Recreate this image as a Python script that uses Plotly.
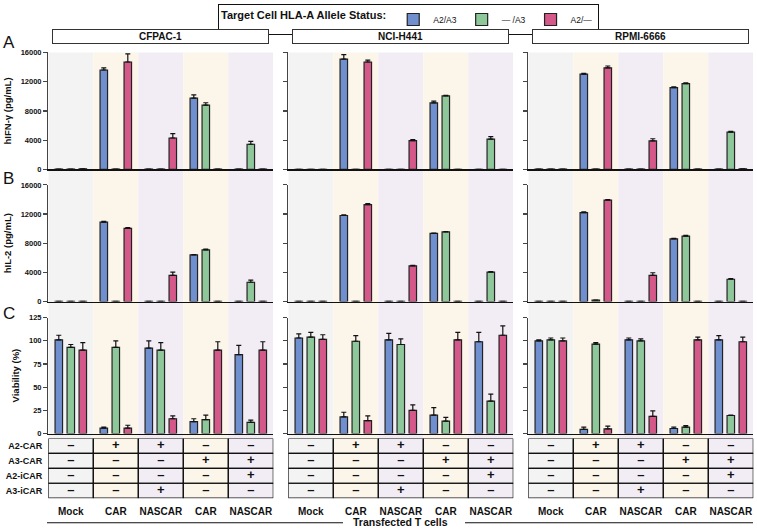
import plotly.graph_objects as go

W, H = 757, 532
FONT = "Liberation Sans"

# ---------------- data ----------------
groups = ["Mock", "CAR", "NASCAR", "CAR", "NASCAR"]
group_kind = ["mock", "car", "nascar", "car", "nascar"]
cell_lines = ["CFPAC-1", "NCI-H441", "RPMI-6666"]
series_names = ["A2/A3", "— /A3", "A2/—"]
series_colors = ["#6f8fcf", "#8ec79a", "#d4588a"]
band_colors = {"mock": "#f3f3f4", "car": "#fcf5ea", "nascar": "#f2edf5"}

# hIFN-gamma (pg/mL): [A2/A3, -/A3, A2/-] per group
ifng_cfpac1 = [[40, 13600, 40, 9750, 60], [40, 40, 40, 8800, 3450], [80, 14700, 4300, 40, 40]]
ifng_cfpac1_err = [[0, 300, 0, 450, 0], [0, 0, 0, 320, 380], [0, 1100, 600, 0, 0]]
ifng_h441 = [[30, 15100, 30, 9100, 30], [30, 30, 30, 10050, 4150], [30, 14700, 3950, 30, 30]]
ifng_h441_err = [[0, 600, 0, 250, 0], [0, 0, 0, 100, 350], [0, 250, 150, 0, 0]]
ifng_rpmi = [[40, 13050, 40, 11200, 40], [40, 60, 40, 11750, 5100], [40, 13900, 3900, 40, 80]]
ifng_rpmi_err = [[0, 100, 0, 100, 0], [0, 0, 0, 80, 100], [0, 250, 300, 0, 0]]

# hIL-2 (pg/mL)
il2_cfpac1 = [[40, 10900, 40, 6400, 40], [40, 40, 40, 7100, 2650], [40, 10050, 3600, 40, 40]]
il2_cfpac1_err = [[0, 100, 0, 50, 0], [0, 0, 0, 80, 280], [0, 80, 450, 0, 0]]
il2_h441 = [[40, 11800, 40, 9350, 40], [40, 40, 40, 9550, 4050], [40, 13300, 4900, 40, 40]]
il2_h441_err = [[0, 100, 0, 50, 0], [0, 0, 0, 60, 50], [0, 120, 60, 0, 0]]
il2_rpmi = [[40, 12200, 40, 8600, 40], [40, 200, 40, 8980, 3060], [40, 13900, 3600, 40, 40]]
il2_rpmi_err = [[0, 100, 0, 60, 0], [0, 0, 0, 100, 100], [0, 100, 350, 0, 0]]

# Viability (%)
via_cfpac1 = [[101, 6, 92, 13, 85], [93, 93, 90, 15, 12], [90, 6, 16, 90, 90]]
via_cfpac1_err = [[5, 1, 8, 3, 10], [3, 7, 8, 5, 2.5], [8, 3, 3, 9, 9]]
via_h441 = [[103, 18, 101, 20, 99], [104, 99.5, 96, 13.5, 35], [101.5, 14, 25, 101, 106]]
via_h441_err = [[4.5, 5, 7, 8, 10], [5, 6, 6, 4, 7.5], [5, 5, 6, 8, 10]]
via_rpmi = [[100, 4.5, 101, 5.5, 101], [101, 96.5, 100, 7, 19.5], [100, 5, 18.5, 101, 99]]
via_rpmi_err = [[1, 2.5, 2, 1.5, 4.5], [2, 1.5, 2, 1.5, 0.5], [3, 3, 6, 3, 5]]

assay_titles = ["hIFN-γ (pg/mL)", "hIL-2 (pg/mL)", "Viability (%)"]
assay_ticks = [[0, 4000, 8000, 12000, 16000], [0, 4000, 8000, 12000, 16000], [0, 25, 50, 75, 100, 125]]
assay_ranges = [[0, 16000], [0, 16000], [0, 125]]
panel_letters = ["A", "B", "C"]

values = [[ifng_cfpac1, ifng_h441, ifng_rpmi], [il2_cfpac1, il2_h441, il2_rpmi], [via_cfpac1, via_h441, via_rpmi]]
errors = [[ifng_cfpac1_err, ifng_h441_err, ifng_rpmi_err], [il2_cfpac1_err, il2_h441_err, il2_rpmi_err],
          [via_cfpac1_err, via_h441_err, via_rpmi_err]]

# construct table
row_labels = ["A2-CAR", "A3-CAR", "A2-iCAR", "A3-iCAR"]
a2_car = ["–", "+", "+", "–", "–"]
a3_car = ["–", "–", "–", "+", "+"]
a2_icar = ["–", "–", "–", "–", "+"]
a3_icar = ["–", "–", "+", "–", "–"]
table_rows = [a2_car, a3_car, a2_icar, a3_icar]

# ---------------- layout geometry (px) ----------------
col_x = [(48.3, 273.3), (288.3, 513.3), (528.3, 753.3)]
row_y = [(49.3, 168.3), (184.0, 302.7), (319.0, 437.0), (442.0, 502.7)]


def xd(a, b):
    return [a / W, b / W]


def yd(a, b):
    return [1 - b / H, 1 - a / H]


def ax_id(r, c):
    return r * 3 + c + 1


def xname(k):
    return "x" if k == 1 else f"x{k}"


def yname(k):
    return "y" if k == 1 else f"y{k}"


fig = go.Figure()
layout = {}
xpos = list(range(len(groups)))

for r in range(4):
    for c in range(3):
        k = ax_id(r, c)
        xa = "xaxis" if k == 1 else f"xaxis{k}"
        ya = "yaxis" if k == 1 else f"yaxis{k}"
        if r < 3:
            layout[xa] = dict(domain=xd(*col_x[c]), anchor=yname(k), range=[-0.5, 4.5],
                              showline=True, linecolor="#111", linewidth=1.3, ticks="",
                              showticklabels=False, showgrid=False, zeroline=False, fixedrange=True)
            layout[ya] = dict(domain=yd(*row_y[r]), anchor=xname(k), range=assay_ranges[r],
                              tickvals=assay_ticks[r], ticktext=[str(t) for t in assay_ticks[r]],
                              showline=True, linecolor="#444", linewidth=1.3,
                              ticks="outside", ticklen=4, tickwidth=1.2, tickcolor="#444",
                              showticklabels=(c == 0), showgrid=False, zeroline=False,
                              tickfont=dict(family=FONT, size=7.5, color="#111", weight="bold"))
            if c == 0:
                layout[ya]["title"] = dict(text=assay_titles[r], standoff=7,
                                           font=dict(family=FONT, size=9.5, color="#111", weight="bold"))
        else:
            layout[xa] = dict(domain=xd(*col_x[c]), anchor=yname(k), range=[-0.5, 4.5],
                              tickvals=xpos, ticktext=groups, showline=False, ticks="outside",
                              ticklen=4, tickcolor="rgba(0,0,0,0)", showgrid=False, zeroline=False,
                              tickfont=dict(family=FONT, size=10, color="#111", weight="bold"))
            layout[ya] = dict(domain=yd(*row_y[r]), anchor=xname(k), range=[3.5, -0.5],
                              tickvals=[0, 1, 2, 3], ticktext=row_labels, showline=False, ticks="",
                              showticklabels=(c == 0), showgrid=False, zeroline=False,
                              ticklabelstandoff=5,
                              tickfont=dict(family=FONT, size=9, color="#111", weight="bold"))

# bars
for r in range(3):
    for c in range(3):
        k = ax_id(r, c)
        for s in range(3):
            fig.add_trace(go.Bar(
                x=xpos, y=values[r][c][s], name=series_names[s],
                marker=dict(color=series_colors[s], line=dict(color="#222", width=1.2)),
                error_y=dict(type="data", symmetric=False, array=errors[r][c][s],
                             arrayminus=[0] * len(groups), color="#111", thickness=1.2, width=2.5),
                xaxis=xname(k), yaxis=yname(k), legendgroup=series_names[s],
                showlegend=(r == 0 and c == 0), hoverinfo="skip"))

# table text
for c in range(3):
    k = ax_id(3, c)
    tx, ty, tt = [], [], []
    for ri, row in enumerate(table_rows):
        for g, v in enumerate(row):
            tx.append(g)
            ty.append(ri)
            tt.append(v)
    fig.add_trace(go.Scatter(x=tx, y=ty, text=tt, mode="text", showlegend=False, hoverinfo="skip",
                             textfont=dict(family=FONT, size=13, color="#111", weight="bold"),
                             xaxis=xname(k), yaxis=yname(k)))

shapes = []
# background bands through all rows
for c in range(3):
    k = ax_id(0, c)
    for g, kind in enumerate(group_kind):
        shapes.append(dict(type="rect", xref=xname(k), yref="paper", x0=g - 0.5, x1=g + 0.5,
                           y0=1 - 502.7 / H, y1=1 - 49.3 / H, fillcolor=band_colors[kind],
                           line=dict(width=0), layer="below"))
# table cells
for c in range(3):
    k = ax_id(3, c)
    for ri in range(len(table_rows)):
        for g in range(len(groups)):
            shapes.append(dict(type="rect", xref=xname(k), yref=yname(k), x0=g - 0.5, x1=g + 0.5,
                               y0=ri - 0.5, y1=ri + 0.5, line=dict(color="#111", width=1.2),
                               layer="above"))
# "Transfected T cells" rule
shapes.append(dict(type="line", xref="paper", yref="paper", x0=47 / W, x1=343 / W,
                   y0=1 - 527.7 / H, y1=1 - 527.7 / H, line=dict(color="#111", width=1.2)))
shapes.append(dict(type="line", xref="paper", yref="paper", x0=465 / W, x1=753 / W,
                   y0=1 - 527.7 / H, y1=1 - 527.7 / H, line=dict(color="#111", width=1.2)))

annotations = []
for c in range(3):
    cx = (col_x[c][0] + col_x[c][1]) / 2
    annotations.append(dict(text=cell_lines[c], xref="paper", yref="paper", x=cx / W, y=1 - 33.5 / H,
                            xanchor="center", yanchor="middle", showarrow=False, width=213, height=11,
                            bordercolor="#333", borderwidth=1, borderpad=1, bgcolor="white",
                            font=dict(family=FONT, size=10, color="#111", weight="bold")))
for letter, ypx in zip(panel_letters, [39, 177, 315]):
    annotations.append(dict(text=letter, xref="paper", yref="paper", x=1 / W, y=1 - ypx / H,
                            xanchor="left", yanchor="middle", showarrow=False,
                            font=dict(family=FONT, size=17, color="#111")))
annotations.append(dict(text="Transfected T cells", xref="paper", yref="paper", x=400 / W, y=1 - 526.5 / H,
                        xanchor="center", yanchor="middle", showarrow=False,
                        font=dict(family=FONT, size=10.5, color="#111", weight="bold")))

fig.update_layout(
    width=W, height=H, margin=dict(l=0, r=0, t=0, b=0),
    paper_bgcolor="white", plot_bgcolor="rgba(0,0,0,0)",
    barmode="group", bargap=0.2, bargroupgap=0.375,
    shapes=shapes, annotations=annotations,
    legend=dict(orientation="h", x=218 / W, y=1, xanchor="left", yanchor="top",
                bordercolor="#111", borderwidth=1, bgcolor="white",
                font=dict(family=FONT, size=8.5, color="#111"),
                title=dict(text="<b>Target Cell HLA-A Allele Status:</b>", side="left",
                           font=dict(family=FONT, size=11, color="#111"))),
    font=dict(family=FONT),
    **layout,
)

fig.write_html("out.html", config={"displayModeBar": False, "staticPlot": True},
               post_script="document.body.style.margin='0';document.body.style.overflow='hidden';")
